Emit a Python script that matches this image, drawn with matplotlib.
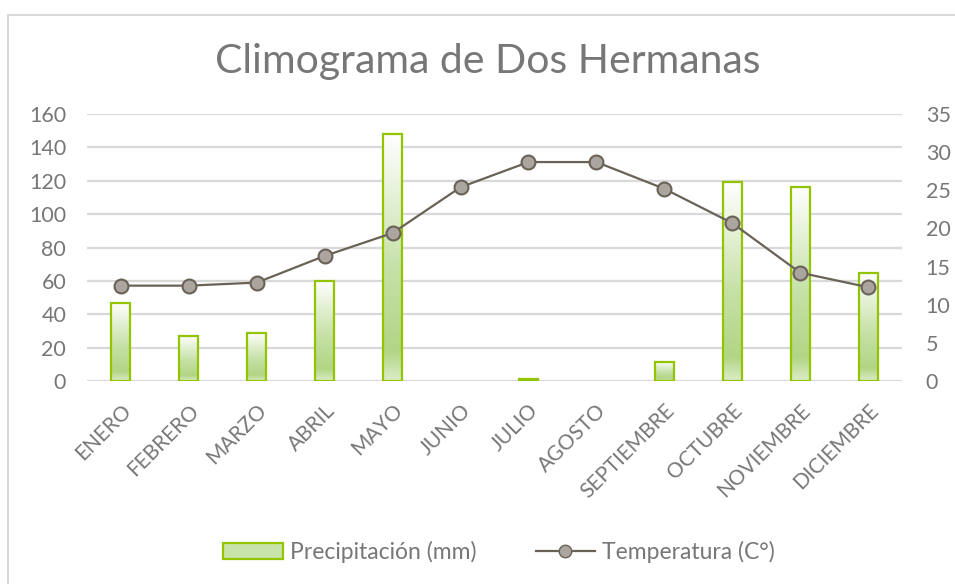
import numpy as np
import matplotlib.pyplot as plt
from matplotlib.colors import LinearSegmentedColormap
from matplotlib.patches import Rectangle, Patch
from matplotlib.lines import Line2D

plt.rcParams['font.family'] = ['Lato', 'DejaVu Sans']

# Data
meses = ['ENERO', 'FEBRERO', 'MARZO', 'ABRIL', 'MAYO', 'JUNIO', 'JULIO',
         'AGOSTO', 'SEPTIEMBRE', 'OCTUBRE', 'NOVIEMBRE', 'DICIEMBRE']
precipitacion = [47, 27, 29, 60, 148, 0, 1, 0, 11.5, 119, 116.5, 64.5]
temperatura = [12.5, 12.5, 12.9, 16.4, 19.4, 25.4, 28.7, 28.7, 25.2, 20.7, 14.2, 12.3]

txt_col = '#777777'
grid_col = '#d9d9d9'
bar_edge = '#92c400'
line_col = '#6b6257'

fig = plt.figure(figsize=(9.55, 5.84), dpi=100)

# outer chart border
fig.patches.append(Rectangle((8 / 955, -0.05), 1.1, 1 - 15 / 584 + 0.05,
                             transform=fig.transFigure, fill=False,
                             edgecolor=grid_col, linewidth=1.5))

ax = fig.add_axes([87 / 955, 1 - 381 / 584, 815 / 955, 267 / 584])
x = np.arange(len(meses))

# gradient for bars: white at top -> green -> lighter at the base
cmap = LinearSegmentedColormap.from_list(
    'verde', [(0, '#dcedc9'), (0.12, '#b2d584'), (0.45, '#c6e1a6'), (1, '#ffffff')])
grad = np.linspace(0, 1, 256).reshape(-1, 1)

bw = 0.28
bars = ax.bar(x, precipitacion, width=bw, color='none', edgecolor=bar_edge,
              linewidth=1.6, zorder=3)
for b in bars:
    h = b.get_height()
    if h <= 0:
        b.set_visible(False)
        continue
    im = ax.imshow(grad, cmap=cmap, origin='lower', aspect='auto',
                   extent=(b.get_x(), b.get_x() + b.get_width(), 0, h),
                   zorder=2.5, interpolation='bilinear')
    im.set_clip_path(b)

ax.set_xlim(-0.5, len(meses) - 0.5)
ax.set_ylim(0, 160)
ax.set_yticks(range(0, 161, 20))
ax.grid(axis='y', color=grid_col, linewidth=1.6, zorder=0)
ax.set_axisbelow(True)
for s in ax.spines.values():
    s.set_visible(False)
ax.tick_params(length=0, labelsize=15.5, labelcolor=txt_col, pad=15)
ax.set_xticks(x)
ax.set_xticklabels(meses, rotation=45, ha='right', rotation_mode='anchor',
                   fontsize=15)
ax.tick_params(axis='x', pad=14)

ax2 = ax.twinx()
ax2.plot(x, temperatura, color=line_col, linewidth=1.6, marker='o',
         markersize=10, markerfacecolor='#aaa59f', markeredgecolor=line_col,
         markeredgewidth=1.5, zorder=5)
ax2.set_ylim(0, 35)
ax2.set_yticks(range(0, 36, 5))
for s in ax2.spines.values():
    s.set_visible(False)
ax2.tick_params(length=0, labelsize=15.5, labelcolor=txt_col, pad=17)

fig.text(488 / 955, 1 - 62 / 584, 'Climograma de Dos Hermanas', ha='center',
         va='center', fontsize=29.5, color=txt_col)

handles = [Patch(facecolor='#c9e3ab', edgecolor=bar_edge, linewidth=1.6),
           Line2D([], [], color=line_col, linewidth=1.6, marker='o',
                  markersize=9, markerfacecolor='#aaa59f',
                  markeredgecolor=line_col)]
fig.legend(handles, ['Precipitación (mm)', 'Temperatura (C°)'], loc='center',
           bbox_to_anchor=(499 / 955, 1 - 552 / 584), ncol=2, frameon=False,
           fontsize=16.5, labelcolor=txt_col, handlelength=2.6, handletextpad=0.3,
           columnspacing=2.6)

fig.savefig('out.png', dpi=100)
